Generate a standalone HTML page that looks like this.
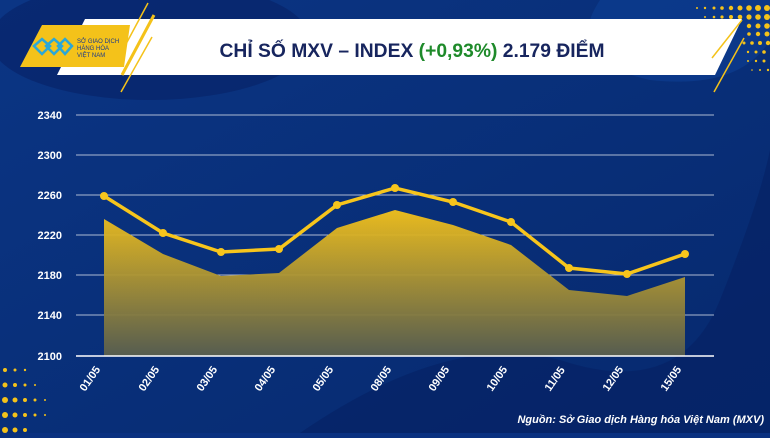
<!DOCTYPE html><html><head><meta charset="utf-8"><style>
body{margin:0;width:770px;height:433px;overflow:hidden;background:#0a3180;font-family:"Liberation Sans",sans-serif}
</style></head><body>
<svg width="770" height="433" viewBox="0 0 770 433" xmlns="http://www.w3.org/2000/svg">
<defs>
<linearGradient id="bg" x1="0" y1="0" x2="1" y2="1"><stop offset="0" stop-color="#0b3584"/><stop offset="1" stop-color="#06296e"/></linearGradient>
<linearGradient id="ar" x1="0" y1="0" x2="0" y2="1"><stop offset="0" stop-color="#f4c21a"/><stop offset="1" stop-color="#5a5f4e"/></linearGradient>
</defs>
<rect width="770" height="433" fill="url(#bg)"/>
<path d="M300 433 Q450 330 560 360 Q680 400 720 300 Q760 200 770 150 L770 433Z" fill="#062265" opacity="0.7"/>
<ellipse cx="150" cy="40" rx="160" ry="60" fill="#062265" opacity="0.6"/>
<path d="M600 0 Q560 60 650 80 Q740 90 770 40 L770 0Z" fill="#0e3f95" opacity="0.6"/>
<g fill="#f4c21a">
<circle cx="5" cy="370" r="2"/><circle cx="15" cy="370" r="1.5"/><circle cx="25" cy="370" r="1.2"/>
<circle cx="5" cy="385" r="2.5"/><circle cx="15" cy="385" r="2"/><circle cx="25" cy="385" r="1.5"/><circle cx="35" cy="385" r="1"/>
<circle cx="5" cy="400" r="3"/><circle cx="15" cy="400" r="2.5"/><circle cx="25" cy="400" r="2"/><circle cx="35" cy="400" r="1.5"/><circle cx="45" cy="400" r="1"/>
<circle cx="5" cy="415" r="3"/><circle cx="15" cy="415" r="2.5"/><circle cx="25" cy="415" r="2"/><circle cx="35" cy="415" r="1.5"/><circle cx="45" cy="415" r="1"/>
<circle cx="5" cy="430" r="3"/><circle cx="15" cy="430" r="2.5"/><circle cx="25" cy="430" r="2"/>
<circle cx="697" cy="8" r="1"/><circle cx="705" cy="8" r="1.2"/><circle cx="714" cy="8" r="1.5"/><circle cx="722" cy="8" r="1.8"/><circle cx="731" cy="8" r="2.2"/><circle cx="740" cy="8" r="2.5"/><circle cx="749" cy="8" r="2.8"/><circle cx="758" cy="8" r="3"/><circle cx="767" cy="8" r="3"/>
<circle cx="705" cy="17" r="1"/><circle cx="714" cy="17" r="1.3"/><circle cx="722" cy="17" r="1.6"/><circle cx="731" cy="17" r="2"/><circle cx="740" cy="17" r="2.3"/><circle cx="749" cy="17" r="2.6"/><circle cx="758" cy="17" r="2.8"/><circle cx="767" cy="17" r="3"/>
<circle cx="749" cy="26" r="2.2"/><circle cx="758" cy="26" r="2.5"/><circle cx="767" cy="26" r="2.8"/>
<circle cx="749" cy="34" r="1.8"/><circle cx="758" cy="34" r="2.2"/><circle cx="767" cy="34" r="2.5"/>
<circle cx="744" cy="43" r="1.5"/><circle cx="752" cy="43" r="1.8"/><circle cx="760" cy="43" r="2"/><circle cx="768" cy="43" r="2.2"/>
<circle cx="748" cy="52" r="1.2"/><circle cx="756" cy="52" r="1.5"/><circle cx="764" cy="52" r="1.8"/>
<circle cx="748" cy="61" r="1"/><circle cx="756" cy="61" r="1.2"/><circle cx="764" cy="61" r="1.5"/>
<circle cx="752" cy="70" r="0.8"/><circle cx="760" cy="70" r="1"/><circle cx="768" cy="70" r="1.2"/>
</g>
<polygon points="85,19 742,19 715,75 57,75" fill="#fff"/>
<polygon points="42,25 130,25 124,67 20,67" fill="#f4c21a"/>
<line x1="148" y1="3" x2="119" y2="57" stroke="#f4c21a" stroke-width="1.5"/>
<line x1="154" y1="15" x2="122" y2="75" stroke="#f4c21a" stroke-width="3"/>
<line x1="152" y1="37" x2="121" y2="92" stroke="#f4c21a" stroke-width="1.5"/>
<line x1="742" y1="20" x2="712" y2="58" stroke="#f4c21a" stroke-width="1.5"/>
<line x1="744" y1="38" x2="714" y2="92" stroke="#f4c21a" stroke-width="1.5"/>
<text x="77" y="43" font-size="6" fill="#1a3a8c">SỞ GIAO DỊCH</text>
<text x="77" y="50" font-size="6" fill="#1a3a8c">HÀNG HÓA</text>
<text x="77" y="57" font-size="6" fill="#1a3a8c">VIỆT NAM</text>
<path d="M34 46 L42 39 L50 46 L42 54Z M46 46 L54 39 L62 46 L54 54Z M58 46 L65 39 L72 46 L65 54Z" fill="none" stroke="#2aa7d8" stroke-width="2.5"/>
<text x="412" y="57" text-anchor="middle" font-size="19" font-weight="bold" fill="#17255e" textLength="385" lengthAdjust="spacingAndGlyphs">CHỈ SỐ MXV – INDEX <tspan fill="#1e8a2a">(+0,93%)</tspan> 2.179 ĐIỂM</text>
<g stroke="#e4e8f0" stroke-width="0.8">
<line x1="76" y1="115" x2="714" y2="115"/><line x1="76" y1="155" x2="714" y2="155"/><line x1="76" y1="195" x2="714" y2="195"/><line x1="76" y1="235" x2="714" y2="235"/><line x1="76" y1="275" x2="714" y2="275"/><line x1="76" y1="315" x2="714" y2="315"/>
</g>
<g font-size="11" font-weight="bold" fill="#fff" text-anchor="end">
<text x="62" y="119">2340</text><text x="62" y="159">2300</text><text x="62" y="199">2260</text><text x="62" y="239">2220</text><text x="62" y="279">2180</text><text x="62" y="319">2140</text><text x="62" y="360">2100</text>
</g>
<polygon points="104,356 104,219 163,254 221,276 279,273 337,228 395,210 453,225 511,245 569,290 627,296 685,277 685,356" fill="url(#ar)" opacity="0.95"/>
<line x1="76" y1="356" x2="714" y2="356" stroke="#fff" stroke-width="1.5"/>
<polyline points="104,196 163,233 221,252 279,249 337,205 395,188 453,202 511,222 569,268 627,274 685,254" fill="none" stroke="#f7c51c" stroke-width="3.5"/>
<g fill="#f7c51c">
<circle cx="104" cy="196" r="4"/><circle cx="163" cy="233" r="4"/><circle cx="221" cy="252" r="4"/><circle cx="279" cy="249" r="4"/><circle cx="337" cy="205" r="4"/><circle cx="395" cy="188" r="4"/><circle cx="453" cy="202" r="4"/><circle cx="511" cy="222" r="4"/><circle cx="569" cy="268" r="4"/><circle cx="627" cy="274" r="4"/><circle cx="685" cy="254" r="4"/>
</g>
<g font-size="11" font-weight="bold" fill="#fff">
<text transform="translate(85,392) rotate(-55)">01/05</text>
<text transform="translate(144,392) rotate(-55)">02/05</text>
<text transform="translate(202,392) rotate(-55)">03/05</text>
<text transform="translate(260,392) rotate(-55)">04/05</text>
<text transform="translate(318,392) rotate(-55)">05/05</text>
<text transform="translate(376,392) rotate(-55)">08/05</text>
<text transform="translate(434,392) rotate(-55)">09/05</text>
<text transform="translate(492,392) rotate(-55)">10/05</text>
<text transform="translate(550,392) rotate(-55)">11/05</text>
<text transform="translate(608,392) rotate(-55)">12/05</text>
<text transform="translate(666,392) rotate(-55)">15/05</text>
</g>
<text x="764" y="423" text-anchor="end" font-size="11" font-weight="bold" font-style="italic" fill="#fff">Nguồn: Sở Giao dịch Hàng hóa Việt Nam (MXV)</text>
</svg>
</body></html>
